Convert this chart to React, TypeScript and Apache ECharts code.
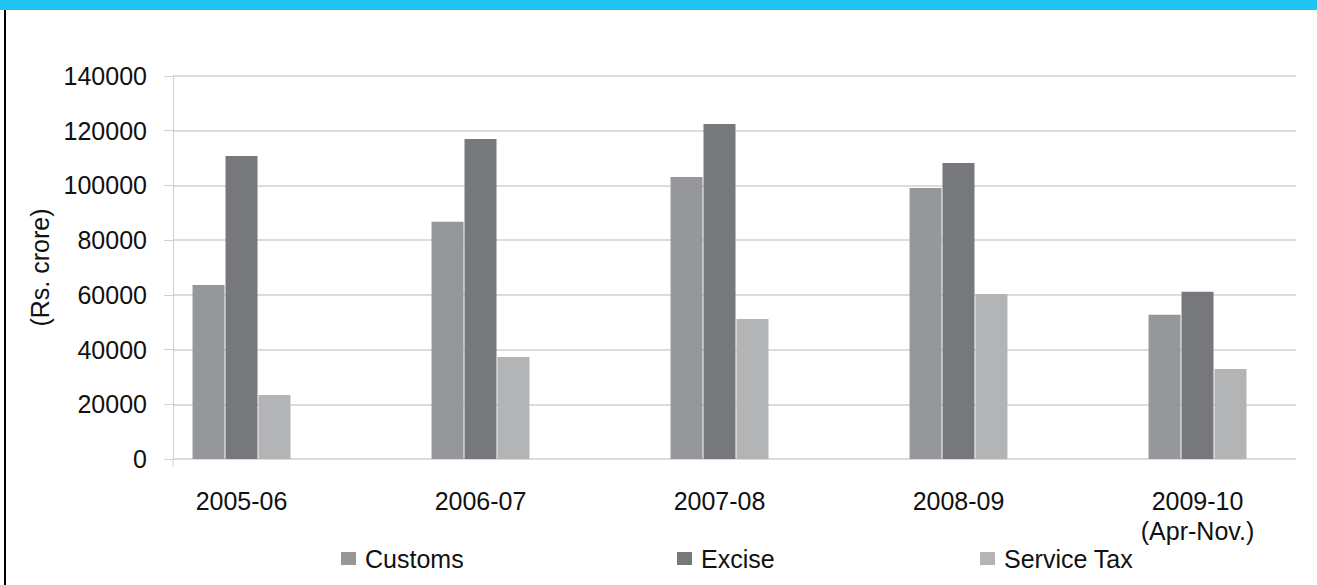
import React, { useEffect, useRef } from "react";
import * as echarts from "echarts";

const categories = ["2005-06", "2006-07", "2007-08", "2008-09", "2009-10\n(Apr-Nov.)"];
const seriesNames = ["Customs", "Excise", "Service Tax"];
const customs = [63600, 86700, 103100, 99100, 52700];
const excise = [110800, 117000, 122500, 108200, 61100];
const serviceTax = [23400, 37300, 51200, 60300, 32900];
const yMin = 0;
const yMax = 140000;
const yInterval = 20000;
const yAxisTitle = "(Rs. crore)";

const colors = ["#96979b", "#77787c", "#b3b4b6"];
const FONT = "'Liberation Sans', Arial, Helvetica, sans-serif";

export default function App() {
  const ref = useRef<HTMLDivElement>(null);

  useEffect(() => {
    document.body.style.margin = "0";
    const chart = echarts.init(ref.current!, null, { renderer: "svg" });
    const dataSets = [customs, excise, serviceTax];
    const legendLefts = [341, 677, 980];

    chart.setOption({
      animation: false,
      backgroundColor: "#ffffff",
      textStyle: { fontFamily: FONT },
      graphic: [
        { type: "rect", shape: { x: 0, y: 0, width: 1317, height: 10 }, style: { fill: "#21c3f3" }, silent: true },
        { type: "line", shape: { x1: 5, y1: 10, x2: 5, y2: 585 }, style: { stroke: "#000", lineWidth: 2 }, silent: true },
        { type: "line", shape: { x1: 173, y1: 459, x2: 173, y2: 467 }, style: { stroke: "#d0d0d0", lineWidth: 1 }, silent: true },
      ],
      legend: seriesNames.map((n, i) => ({
        data: [n],
        left: legendLefts[i],
        top: 546,
        padding: 0,
        icon: "rect",
        itemWidth: 15,
        itemHeight: 13,
        selectedMode: false,
        textStyle: { fontSize: 25, color: "#111", fontFamily: FONT, padding: [0, 0, 0, 4] },
      })),
      grid: [
        { left: 173, right: 21, top: 76, bottom: 126 },
        { left: 122, width: 1214, top: 76, bottom: 126 },
      ],
      xAxis: [
        { gridIndex: 0, type: "category", data: categories, show: false },
        {
          gridIndex: 1,
          type: "category",
          data: categories,
          axisLine: { show: false },
          axisTick: { show: false },
          axisLabel: {
            interval: 0,
            margin: 27,
            fontSize: 25,
            lineHeight: 30,
            color: "#111",
            fontFamily: FONT,
          },
        },
      ],
      yAxis: [
        {
          gridIndex: 0,
          type: "value",
          min: yMin,
          max: yMax,
          interval: yInterval,
          name: yAxisTitle,
          nameLocation: "middle",
          nameGap: 117,
          nameTextStyle: { fontSize: 25, color: "#111", fontFamily: FONT },
          axisLine: { show: true, lineStyle: { color: "#d0d0d0", width: 1 } },
          axisTick: { show: true, length: 9, lineStyle: { color: "#d0d0d0", width: 1 } },
          axisLabel: {
            margin: 26,
            fontSize: 25,
            color: "#111",
            fontFamily: FONT,
            formatter: (v: number) => String(v),
          },
          splitLine: { show: true, lineStyle: { color: "#d0d0d0", width: 1.5 } },
        },
        { gridIndex: 1, type: "value", min: yMin, max: yMax, interval: yInterval, show: false, splitLine: { show: false } },
      ],
      series: seriesNames.map((n, i) => ({
        name: n,
        type: "bar",
        xAxisIndex: 1,
        yAxisIndex: 1,
        data: dataSets[i],
        barWidth: 32,
        barGap: "3%",
        itemStyle: { color: colors[i] },
      })),
    });
    return () => chart.dispose();
  }, []);

  return (
    <div
      ref={ref}
      style={{ position: "absolute", left: 0, top: 0, width: 1317, height: 585 }}
    />
  );
}
